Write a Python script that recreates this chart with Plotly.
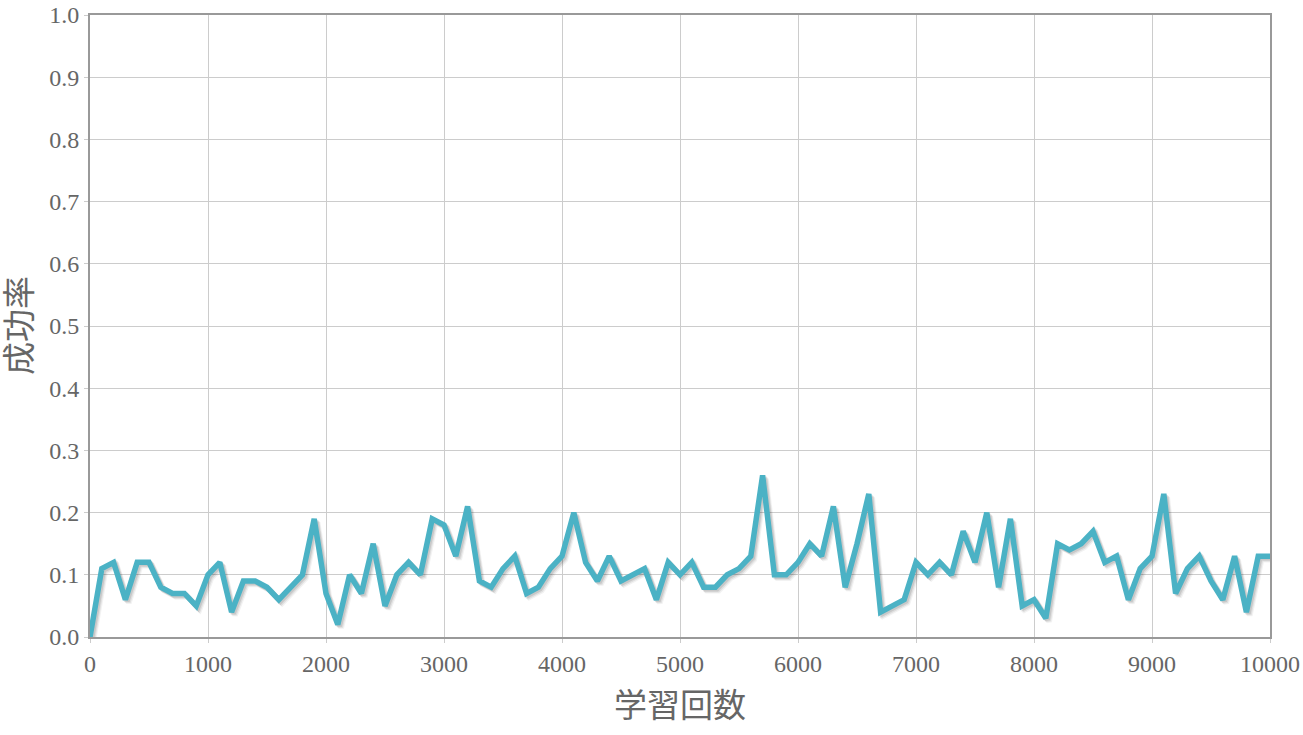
import plotly.graph_objects as go

x_steps = list(range(0, 10001, 100))
success_rate = [
    0.00, 0.11, 0.12, 0.06, 0.12, 0.12, 0.08, 0.07, 0.07, 0.05,
    0.10, 0.12, 0.04, 0.09, 0.09, 0.08, 0.06, 0.08, 0.10, 0.19,
    0.07, 0.02, 0.10, 0.07, 0.15, 0.05, 0.10, 0.12, 0.10, 0.19,
    0.18, 0.13, 0.21, 0.09, 0.08, 0.11, 0.13, 0.07, 0.08, 0.11,
    0.13, 0.20, 0.12, 0.09, 0.13, 0.09, 0.10, 0.11, 0.06, 0.12,
    0.10, 0.12, 0.08, 0.08, 0.10, 0.11, 0.13, 0.26, 0.10, 0.10,
    0.12, 0.15, 0.13, 0.21, 0.08, 0.15, 0.23, 0.04, 0.05, 0.06,
    0.12, 0.10, 0.12, 0.10, 0.17, 0.12, 0.20, 0.08, 0.19, 0.05,
    0.06, 0.03, 0.15, 0.14, 0.15, 0.17, 0.12, 0.13, 0.06, 0.11,
    0.13, 0.23, 0.07, 0.11, 0.13, 0.09, 0.06, 0.13, 0.04, 0.13,
    0.13,
]
x_tick_vals = list(range(0, 10001, 1000))
x_tick_text = [str(v) for v in x_tick_vals]
y_tick_vals = [i / 10 for i in range(11)]
y_tick_text = [f"{v:.1f}" for v in y_tick_vals]
x_title = "学習回数"
y_title = "成功率"

L, R, T, B = 90, 33, 15, 98
W, H = 1303, 735
pw = W - L - R
ph = H - T - B
dx = 1.0 / pw * 10000   # 1px in data units
dy = 1.0 / ph * 1.0

fig = go.Figure()
# invisible trace anchoring the base axes
fig.add_trace(go.Scatter(
    x=x_steps, y=success_rate, mode="lines",
    line=dict(color="rgba(0,0,0,0)", width=0),
    hoverinfo="skip", showlegend=False,
))

shadow_layers = [(1.5, 0.10), (2.5, 0.08), (3.5, 0.05)]
for i, (k, a) in enumerate(shadow_layers, start=2):
    fig.add_trace(go.Scatter(
        x=x_steps, y=success_rate, mode="lines",
        line=dict(color=f"rgba(0,0,0,{a})", width=5.5),
        xaxis=f"x{i}", yaxis=f"y{i}", hoverinfo="skip", showlegend=False,
    ))
    fig.update_layout(**{
        f"xaxis{i}": dict(range=[-dx * k, 10000 - dx * k], overlaying="x", visible=False),
        f"yaxis{i}": dict(range=[dy * k, 1.0 + dy * k], overlaying="y", visible=False),
    })

main_i = len(shadow_layers) + 2
fig.add_trace(go.Scatter(
    x=x_steps, y=success_rate, mode="lines",
    line=dict(color="#4bb2c5", width=5.5),
    xaxis=f"x{main_i}", yaxis=f"y{main_i}", showlegend=False,
))
fig.update_layout(**{
    f"xaxis{main_i}": dict(range=[0, 10000], overlaying="x", visible=False),
    f"yaxis{main_i}": dict(range=[0, 1.0], overlaying="y", visible=False),
})

tickfont = dict(family="Liberation Serif, DejaVu Serif, serif", size=24, color="#666666")
titlefont = dict(family="Noto Sans CJK JP", size=33, color="#666666")
fig.update_layout(
    width=W, height=H,
    margin=dict(l=L, r=R, t=T, b=B, autoexpand=False),
    paper_bgcolor="white", plot_bgcolor="white",
    xaxis=dict(
        range=[0, 10000], tickvals=x_tick_vals, ticktext=x_tick_text, tickfont=tickfont,
        showgrid=True, gridcolor="#cccccc", gridwidth=1,
        showline=True, linecolor="#999999", linewidth=2, mirror=True,
        ticks="outside", ticklen=4, tickcolor="#cccccc",
        zeroline=False, automargin=False,
    ),
    yaxis=dict(
        range=[0, 1.0], tickvals=y_tick_vals, ticktext=y_tick_text, tickfont=tickfont,
        showgrid=True, gridcolor="#cccccc", gridwidth=1,
        showline=True, linecolor="#999999", linewidth=2, mirror=True,
        ticks="outside", ticklen=4, tickcolor="#cccccc",
        zeroline=False, automargin=False,
    ),
    annotations=[
        dict(text=x_title, xref="paper", yref="paper", x=0.5, y=0, yshift=-66,
             xanchor="center", yanchor="middle", showarrow=False, font=titlefont),
        dict(text=y_title, xref="paper", yref="paper", x=0, y=0.5, xshift=-73,
             xanchor="center", yanchor="middle", showarrow=False, font=titlefont,
             textangle=-90),
    ],
)

fig.write_html("out.html", config={"displayModeBar": False},
               post_script="document.body.style.margin='0';document.body.style.padding='0';")
